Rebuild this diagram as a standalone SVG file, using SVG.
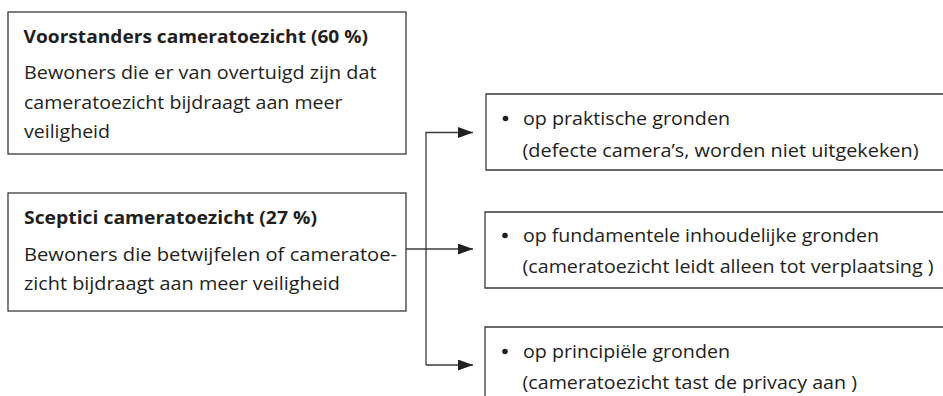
<svg xmlns="http://www.w3.org/2000/svg" width="943" height="396" viewBox="0 0 943 396">
<defs>
<style>
.box{fill:#fff;stroke:#3a3a3a;stroke-width:1.3}
.t{font-family:"Open Sans","Noto Sans",sans-serif;font-size:18px;fill:#231f20}
.b{font-weight:bold}
.c{fill:none;stroke:#3a3a3a;stroke-width:1.3}
</style>
<marker id="ah" viewBox="0 0 15 11" refX="15" refY="5.5" markerWidth="15" markerHeight="11" markerUnits="userSpaceOnUse" orient="auto">
<path d="M0,0 L15,5.5 L0,11 z" fill="#231f20"/>
</marker>
</defs>
<rect width="943" height="396" fill="#fff"/>
<g id="voorstanders">
<rect class="box" x="8" y="12" width="398" height="142"/>
<text class="t b" x="23.5" y="43" textLength="344.5" lengthAdjust="spacingAndGlyphs">Voorstanders cameratoezicht (60 %)</text>
<text class="t" x="24" y="78.5" textLength="352.5" lengthAdjust="spacingAndGlyphs">Bewoners die er van overtuigd zijn dat</text>
<text class="t" x="24" y="109" textLength="318.5" lengthAdjust="spacingAndGlyphs">cameratoezicht bijdraagt aan meer</text>
<text class="t" x="24" y="137.5" textLength="86" lengthAdjust="spacingAndGlyphs">veiligheid</text>
</g>
<g id="sceptici">
<rect class="box" x="8" y="193" width="398" height="118"/>
<text class="t b" x="24" y="224" textLength="293" lengthAdjust="spacingAndGlyphs">Sceptici cameratoezicht (27 %)</text>
<text class="t" x="24" y="260.5" textLength="373" lengthAdjust="spacingAndGlyphs">Bewoners die betwijfelen of cameratoe-</text>
<text class="t" x="24" y="290" textLength="316" lengthAdjust="spacingAndGlyphs">zicht bijdraagt aan meer veiligheid</text>
</g>
<g id="praktisch">
<path class="box" d="M950,94 H486 V170 H950"/>
<circle cx="505.5" cy="118.5" r="2.8" fill="#231f20"/>
<text class="t" x="523" y="125" textLength="207" lengthAdjust="spacingAndGlyphs">op praktische gronden</text>
<text class="t" x="522.5" y="156.5" textLength="396" lengthAdjust="spacingAndGlyphs">(defecte camera’s, worden niet uitgekeken)</text>
</g>
<g id="fundamenteel">
<path class="box" d="M950,212 H485 V288 H950"/>
<circle cx="505" cy="235.5" r="2.8" fill="#231f20"/>
<text class="t" x="523" y="241.5" textLength="356" lengthAdjust="spacingAndGlyphs">op fundamentele inhoudelijke gronden</text>
<text class="t" x="522.5" y="273" textLength="411" lengthAdjust="spacingAndGlyphs">(cameratoezicht leidt alleen tot verplaatsing )</text>
</g>
<g id="principieel">
<path class="box" d="M950,327 H485 V400"/>
<circle cx="505" cy="351.5" r="2.8" fill="#231f20"/>
<text class="t" x="523" y="357.5" textLength="207" lengthAdjust="spacingAndGlyphs">op principiële gronden</text>
<text class="t" x="522.5" y="388.5" textLength="334.5" lengthAdjust="spacingAndGlyphs">(cameratoezicht tast de privacy aan )</text>
</g>
<g id="connectors">
<path class="c" d="M426,365 V132.5 H473" marker-end="url(#ah)"/>
<path class="c" d="M406,249 H473" marker-end="url(#ah)"/>
<path class="c" d="M426,365 H473" marker-end="url(#ah)"/>
</g>
</svg>
